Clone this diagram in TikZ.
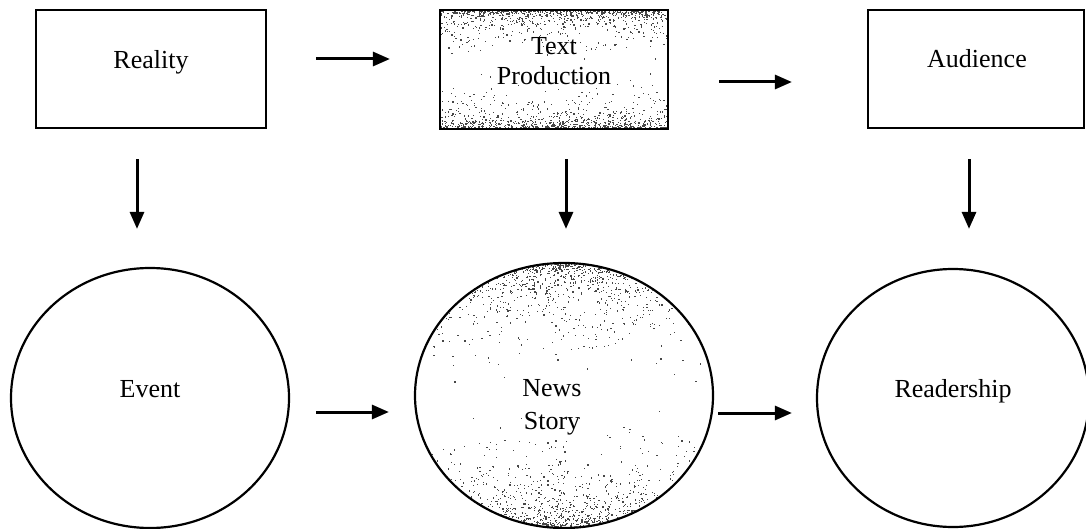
\documentclass[tikz,border=0pt]{standalone}
\usepackage{fontspec}
\setmainfont{Liberation Serif}
\usetikzlibrary{shapes.geometric,arrows.meta}
\pgfdeclarelayer{background}
\pgfsetlayers{background,main}
\begin{document}
\begin{tikzpicture}[x=1pt,y=-1pt,
  box/.style={draw=black,line width=2.2pt,rectangle,inner sep=0pt},
  oval/.style={draw=black,line width=2.2pt,ellipse,inner sep=0pt},
  lbl/.style={font=\fontsize{26}{30}\selectfont,inner sep=0pt,align=center},
  flow/.style={line width=3pt,-{Triangle[length=17pt,width=14pt]}},
  grain/.style={fill=black!72}]
\useasboundingbox (0,0) rectangle (1086,529);

% top row: boxes
\node[box,minimum width=230pt,minimum height=118pt] (reality) at (151,69) {};
\node[box,minimum width=228pt,minimum height=119pt] (textprod) at (554,69.5) {};
\node[box,minimum width=216pt,minimum height=118pt] (audience) at (976,69) {};

% bottom row: ellipses
\node[oval,minimum width=278pt,minimum height=260pt] (event) at (150,398) {};
\node[oval,minimum width=298pt,minimum height=265pt] (news) at (564,395.5) {};
\node[oval,minimum width=272pt,minimum height=258pt] (readership) at (953,398) {};

% stippled fill, thick near the top and bottom edges, thin in the middle
\pgfmathsetseed{731}
\begin{pgfonlayer}{background}
  \begin{scope}
    \clip (textprod.north west) rectangle (textprod.south east);
    \foreach \k in {1,...,1700} {
      \pgfmathsetmacro\px{440+228*rnd}
      \pgfmathsetmacro\dd{64*rnd*rnd*rnd}
      \pgfmathsetmacro\py{rnd<0.5 ? 10+\dd : 128-\dd}
      \fill[grain] (\px,\py) rectangle ++(1.2,1.2);
    }
  \end{scope}
  \begin{scope}
    \clip (news.center) ellipse [x radius=148, y radius=131.5];
    \foreach \k in {1,...,3800} {
      \pgfmathsetmacro\px{415+298*rnd}
      \pgfmathsetmacro\dd{140*rnd*rnd*rnd}
      \pgfmathsetmacro\py{rnd<0.5 ? 263+\dd : 528-\dd}
      \fill[grain] (\px,\py) rectangle ++(1.2,1.2);
    }
  \end{scope}
\end{pgfonlayer}

% labels
\node[lbl,anchor=base] (realityL) at (151,69) {Reality};
\node[lbl] (textprodL) at (554,61.4) {Text\\Production};
\node[lbl,anchor=base] (audienceL) at (977,68) {Audience};
\node[lbl,anchor=base] (eventL) at (150,397) {Event};
\node[lbl,font=\fontsize{26}{33}\selectfont] (newsL) at (552,407.7) {News\\Story};
\node[lbl,anchor=base] (readershipL) at (953,397) {Readership};

% horizontal flow, top row
\draw[flow,shorten <=49pt,shorten >=49pt]
  ([yshift=10pt]reality.east) -- ([yshift=10pt]reality.east -| textprod.west);
\draw[flow,shorten <=50pt,shorten >=75pt]
  ([yshift=-12.5pt]textprod.east) -- ([yshift=-12.5pt]textprod.east -| audience.west);

% vertical flow
\draw[flow,shorten <=30pt,shorten >=38pt]
  ([xshift=-14pt]reality.south) -- ([xshift=-14pt]reality.south |- event.north);
\draw[flow,shorten <=29pt,shorten >=33pt]
  ([xshift=12pt]textprod.south) -- ([xshift=12pt]textprod.south |- news.north);
\draw[flow,shorten <=30pt,shorten >=39pt]
  ([xshift=-7pt]audience.south) -- ([xshift=-7pt]audience.south |- readership.north);

% horizontal flow, bottom row
\draw[flow,shorten <=26pt,shorten >=25pt]
  ([yshift=-14pt]event.east) -- ([yshift=-14pt]event.east -| news.west);
\draw[flow,shorten <=4pt,shorten >=24pt]
  ([yshift=-17.5pt]news.east) -- ([yshift=-17.5pt]news.east -| readership.west);
\end{tikzpicture}
\end{document}
